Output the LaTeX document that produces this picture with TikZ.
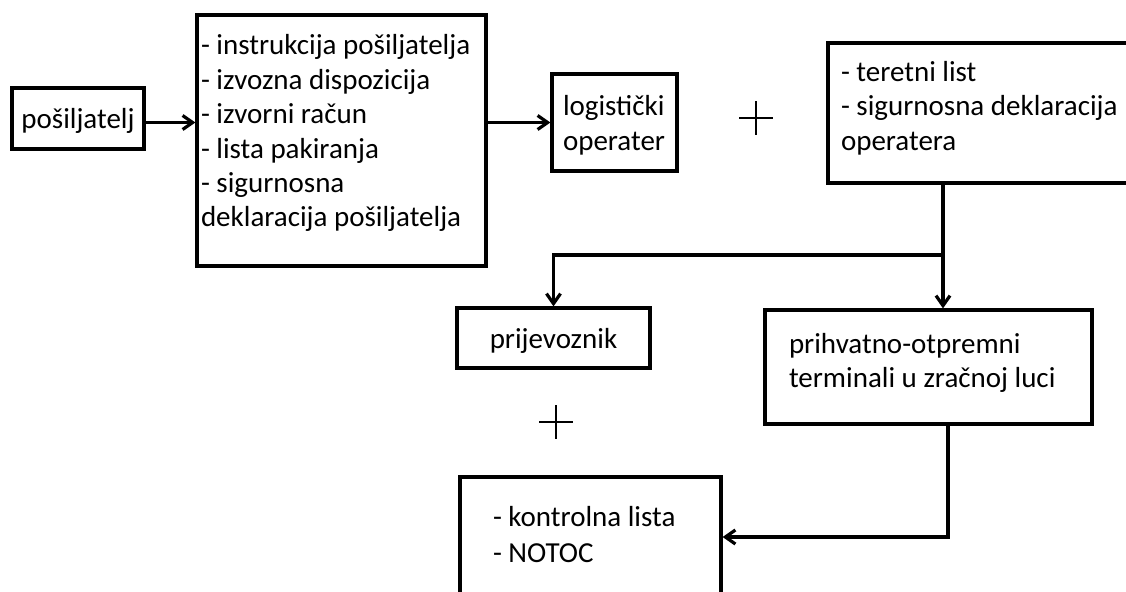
\documentclass[tikz,border=0pt]{standalone}
\usepackage{fontspec}
\setmainfont{Carlito}
\usetikzlibrary{arrows.meta}

\begin{document}
\begin{tikzpicture}[x=0.5pt,y=-0.5pt,line width=1.6pt,
    >={Straight Barb[length=5pt,width=7pt]},
    box/.style={draw,rectangle,inner ysep=0pt,align=flush left,font=\fontsize{14.5pt}{17.2pt}\selectfont}]
            \useasboundingbox[fill=white] (0,0) rectangle (1126,591);
            \clip (0,0) rectangle (1126,591);
            \node[box,align=center,minimum width=66pt,minimum height=30.5pt] at (78,118.5) (posiljatelj) {\rule{0pt}{12.5pt}pošiljatelj};
            \node[box,inner xsep=2pt,text width=140.5pt,minimum width=144.5pt,minimum height=125.5pt] at (341.5,140.5) (docs) {- instrukcija pošiljatelja\\- izvozna dispozicija\\- izvorni račun\\- lista pakiranja\\- sigurnosna\\deklaracija pošiljatelja\rule[-9.6pt]{0pt}{0pt}};
            \node[box,inner xsep=5.5pt,text width=51.5pt,minimum width=62.5pt,minimum height=48.5pt] at (614.5,122.5) (logisticki) {\rule{0pt}{13pt}logistički\\operater};
            \node[box,inner xsep=6.5pt,text width=140.5pt,minimum width=153.5pt,minimum height=70pt] at (981.5,113) (operater) {- teretni list\\- sigurnosna deklaracija\\operatera\rule[-7.1pt]{0pt}{0pt}};
            \node[box,align=center,minimum width=96.5pt,minimum height=30pt] at (553.5,338) (prijevoznik) {\rule{0pt}{13pt}prijevoznik};
            \node[box,inner xsep=12pt,text width=139.5pt,minimum width=163.5pt,minimum height=57pt] at (928.5,367) (terminal) {prihvatno-otpremni\\terminali u zračnoj luci\rule[-6.6pt]{0pt}{0pt}};
            \node[box,inner xsep=16.5pt,text width=97.5pt,minimum width=130.5pt,minimum height=71.5pt] at (590.5,548.5) (kontrolna) {- kontrolna lista\\[0.6pt]- NOTOC\rule[-14.1pt]{0pt}{0pt}};
            \coordinate (razdjel) at (943,255);
            \coordinate (skretanje) at (948,537);
            \draw[line width=1.2pt] (739,118) -- (773,118) (756,101) -- (756,135);
            \draw[line width=1.2pt] (539,422) -- (573,422) (556,405) -- (556,439);
            \draw[->] ([yshift=-2pt]posiljatelj.east) to ([yshift=-2pt]docs.west |- posiljatelj);
            \draw[->] (docs.east |- logisticki) to (logisticki);
            \draw[->] (operater.south -| razdjel) -- (razdjel) -| (prijevoznik.north);
            \draw[->] (razdjel) to (razdjel |- terminal.north);
            \draw[->] (terminal.south -| skretanje) -- (skretanje) -- (skretanje -| kontrolna.east);
        \end{tikzpicture}
\end{document}
